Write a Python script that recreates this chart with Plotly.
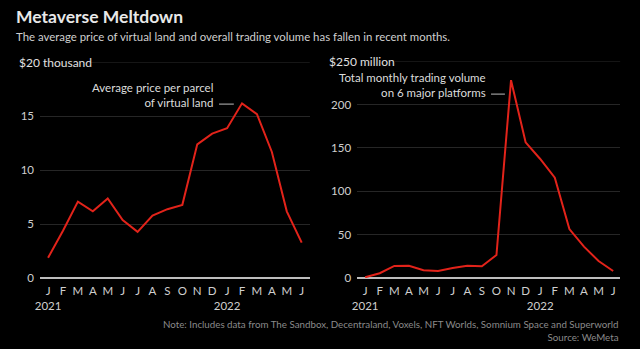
import plotly.graph_objects as go
from plotly.subplots import make_subplots

# Monthly series, Jan 2021 - Jun 2022
months = ["J", "F", "M", "A", "M", "J", "J", "A", "S", "O", "N", "D",
          "J", "F", "M", "A", "M", "J"]
years = {0: "2021", 12: "2022"}

# Average price per parcel of virtual land ($ thousand)
avg_price = [1.9, 4.4, 7.1, 6.2, 7.4, 5.4, 4.3, 5.8, 6.4, 6.8,
             12.4, 13.4, 13.9, 16.2, 15.2, 11.7, 6.2, 3.3]

# Total monthly trading volume on 6 major platforms ($ million)
volume = [1.2, 5.8, 14.2, 14.5, 9.2, 8.4, 11.9, 14.5, 13.8, 26.8,
          228, 156.5, 137.3, 115.8, 56.7, 36.4, 19.9, 8.4]

price_ticks = [0, 5, 10, 15]
volume_ticks = [0, 50, 100, 150, 200]

RED = "#e2231a"
BG = "#000000"
FONT = "Lato"
TICK_COLOR = "#cfcfcf"
GRID = "#262626"

x = list(range(len(months)))
ticktext = [m + ("<br>" + years[i] if i in years else "") for i, m in enumerate(months)]

fig = make_subplots(rows=1, cols=2)

fig.add_trace(go.Scatter(x=x, y=avg_price, mode="lines",
                         line=dict(color=RED, width=2), hoverinfo="skip"),
              row=1, col=1)
fig.add_trace(go.Scatter(x=x, y=volume, mode="lines",
                         line=dict(color=RED, width=2), hoverinfo="skip"),
              row=1, col=2)

xcommon = dict(tickmode="array", tickvals=x, ticktext=ticktext, tickangle=0,
               showgrid=False, zeroline=False, showline=False, ticks="",
               automargin=False, ticklabelstandoff=4,
               tickfont=dict(family=FONT, size=11.5, color=TICK_COLOR),
               fixedrange=True)
fig.update_xaxes(domain=[0.0625, 0.484], range=[-0.54, 17.54], **xcommon, row=1, col=1)
fig.update_xaxes(domain=[0.558, 0.969], range=[-0.55, 17.48], **xcommon, row=1, col=2)

ycommon = dict(showgrid=True, gridcolor=GRID, gridwidth=1,
               zeroline=True, zerolinecolor="#bdbdbd", zerolinewidth=1.5,
               showline=False, ticks="", ticklabelstandoff=5, automargin=False,
               tickfont=dict(family=FONT, size=11.5, color=TICK_COLOR),
               fixedrange=True)
fig.update_yaxes(domain=[0.2026, 0.8215], range=[0, 20], tickvals=price_ticks,
                 **ycommon, row=1, col=1)
fig.update_yaxes(domain=[0.2026, 0.825], range=[0, 250], tickvals=volume_ticks,
                 **ycommon, row=1, col=2)

# top gridlines, drawn to the right of the unit labels
fig.add_shape(type="line", xref="paper", yref="y", x0=90 / 640, x1=0.484,
              y0=20, y1=20, line=dict(color=GRID, width=1))
fig.add_shape(type="line", xref="paper", yref="y2", x0=395 / 640, x1=0.969,
              y0=250, y1=250, line=dict(color=GRID, width=1))

annotations = []
# unit labels
annotations.append(dict(text="$20 thousand", xref="paper", yref="y", x=17 / 640, y=20,
                        xanchor="left", yanchor="middle", showarrow=False,
                        font=dict(family=FONT, size=12, color="#e0e0e0")))
annotations.append(dict(text="$250 million", xref="paper", yref="y2", x=327 / 640, y=250,
                        xanchor="left", yanchor="middle", showarrow=False,
                        font=dict(family=FONT, size=12, color="#e0e0e0")))

# series labels with short leader lines pointing at the peaks
pk1 = avg_price.index(max(avg_price))
pk2 = volume.index(max(volume))
lead1_y = 16.13
lead2_y = 212
annotations.append(dict(text="Average price per parcel<br>of virtual land",
                        xref="x", yref="y", x=pk1 - 1.82, y=lead1_y,
                        xanchor="right", yanchor="bottom", yshift=-7, align="right",
                        showarrow=False,
                        font=dict(family=FONT, size=11.5, color="#dcdcdc")))
annotations.append(dict(text="Total monthly trading volume<br>on 6 major platforms",
                        xref="x2", yref="y2", x=pk2 - 1.58, y=lead2_y,
                        xanchor="right", yanchor="bottom", yshift=-7, align="right",
                        showarrow=False,
                        font=dict(family=FONT, size=11.5, color="#dcdcdc")))
fig.add_shape(type="line", xref="x", yref="y", x0=pk1 - 1.54, x1=pk1 - 0.55,
              y0=lead1_y, y1=lead1_y, line=dict(color="#bdbdbd", width=1))
fig.add_shape(type="line", xref="x2", yref="y2", x0=pk2 - 1.37, x1=pk2 - 0.42,
              y0=lead2_y, y1=lead2_y, line=dict(color="#bdbdbd", width=1))

# title, subtitle and footnotes
annotations.append(dict(text="<b>Metaverse Meltdown</b>", xref="paper", yref="paper",
                        x=14 / 640, y=1 - 16.5 / 349, xanchor="left", yanchor="middle",
                        showarrow=False,
                        font=dict(family=FONT, size=17.5, color="#e8e8e8")))
annotations.append(dict(text="The average price of virtual land and overall trading volume has fallen in recent months.",
                        xref="paper", yref="paper", x=14 / 640, y=1 - 36.5 / 349,
                        xanchor="left", yanchor="middle", showarrow=False,
                        font=dict(family=FONT, size=11.4, color="#cfcfcf")))
annotations.append(dict(text="Note: Includes data from The Sandbox, Decentraland, Voxels, NFT Worlds, Somnium Space and Superworld<br>Source: WeMeta",
                        xref="paper", yref="paper", x=621 / 640, y=1 - 330 / 349,
                        xanchor="right", yanchor="middle", align="right", showarrow=False,
                        font=dict(family=FONT, size=9.75, color="#8a8a8a")))

fig.update_layout(width=640, height=349, margin=dict(l=0, r=0, t=0, b=0),
                  paper_bgcolor=BG, plot_bgcolor=BG, showlegend=False,
                  annotations=annotations)

fig.write_html("out.html", config={"displayModeBar": False})
